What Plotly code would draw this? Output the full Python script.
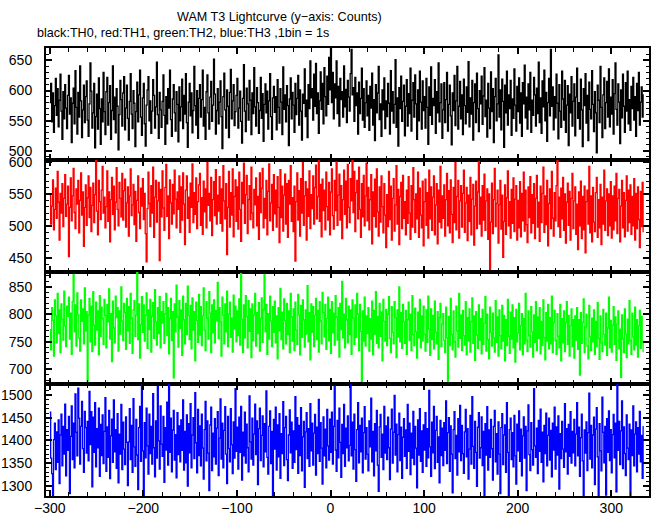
import plotly.graph_objects as go
from plotly.subplots import make_subplots

# Time bins (1 bin = 1 s)
time_start = -300
bin_width = 1

th0_black = [
580, 612, 548, 596, 531, 575, 620, 559, 603, 540, 584, 627, 566, 519, 598, 553, 610, 571, 537, 592,
625, 561, 588, 514, 579, 604, 545, 633, 572, 528, 597, 556, 641, 583, 522, 568, 609, 547, 590, 616,
551, 524, 578, 646, 599, 538, 563, 612, 505, 557, 594, 536, 621, 570, 511, 586, 548, 630, 565, 527,
598, 622, 543, 580, 608, 519, 567, 641, 552, 589, 530, 603, 574, 502, 560, 617, 585, 541, 596, 623,
535, 571, 609, 554, 518, 582, 628, 561, 537, 600, 579, 507, 565, 614, 548, 593, 634, 556, 526, 588,
612, 545, 508, 576, 601, 623, 550, 583, 529, 566, 618, 592, 538, 573, 647, 560, 521, 597, 568, 539,
582, 626, 559, 511, 590, 545, 603, 571, 634, 552, 524, 586, 610, 563, 533, 598, 577, 515, 606, 550,
573, 619, 537, 592, 561, 628, 547, 506, 581, 612, 558, 596, 530, 567, 640, 575, 543, 600, 521, 587,
610, 556, 585, 634, 541, 572, 519, 598, 626, 563, 536, 589, 615, 549, 576, 652, 594, 528, 567, 603,
545, 581, 616, 557, 504, 590, 629, 568, 538, 601, 574, 522, 597, 635, 553, 583, 610, 542, 565, 592,
620, 538, 571, 599, 549, 513, 587, 643, 566, 532, 604, 578, 551, 617, 584, 527, 596, 562, 638, 573,
541, 605, 580, 529, 567, 622, 554, 595, 516, 577, 611, 563, 599, 536, 583, 628, 557, 519, 588, 607,
564, 590, 535, 618, 572, 546, 603, 581, 527, 639, 569, 593, 548, 608, 575, 509, 586, 621, 553, 597,
576, 531, 612, 560, 587, 625, 543, 601, 566, 518, 594, 579, 636, 557, 584, 522, 610, 570, 649, 588,
603, 551, 627, 574, 645, 562, 596, 529, 583, 631, 569, 612, 545, 638, 590, 558, 624, 577, 655, 601,
672, 580, 630, 553, 611, 588, 649, 562, 607, 541, 620, 585, 598, 556, 641, 573, 602, 547, 617, 589,
566, 628, 668, 593, 605, 549, 622, 575, 596, 528, 614, 562, 587, 637, 551, 603, 539, 580, 616, 558,
592, 534, 607, 571, 629, 543, 585, 517, 610, 563, 596, 640, 552, 578, 524, 601, 568, 621, 537, 583,
557, 612, 579, 528, 633, 566, 598, 546, 577, 651, 539, 588, 508, 605, 570, 624, 549, 582, 609, 525,
574, 618, 541, 595, 562, 637, 533, 584, 613, 556, 626, 578, 519, 601, 550, 632, 581, 536, 616, 567,
590, 538, 620, 572, 511, 606, 559, 639, 544, 587, 575, 618, 529, 598, 563, 646, 548, 580, 611, 521,
568, 613, 547, 585, 630, 533, 577, 609, 558, 510, 596, 567, 625, 542, 583, 640, 536, 574, 615, 553,
593, 527, 619, 575, 545, 606, 564, 648, 540, 588, 561, 617, 518, 580, 611, 547, 629, 570, 532, 600,
578, 624, 544, 591, 638, 557, 584, 523, 612, 571, 537, 631, 565, 603, 514, 590, 620, 550, 578, 659,
556, 601, 535, 619, 582, 506, 609, 563, 632, 543, 593, 570, 617, 526, 586, 554, 636, 576, 533, 607,
565, 621, 546, 596, 524, 613, 578, 642, 555, 589, 536, 611, 568, 630, 531, 584, 559, 622, 593, 541,
604, 562, 647, 547, 588, 529, 616, 573, 634, 550, 597, 516, 580, 620, 558, 668, 574, 606, 535, 590,
555, 627, 579, 520, 610, 566, 539, 632, 586, 551, 617, 531, 576, 608, 509, 594, 563, 623, 541, 582,
611, 525, 589, 637, 554, 580, 536, 619, 568, 507, 603, 575, 628, 546, 592, 517, 614, 569, 553, 633,
577, 532, 598, 563, 497, 609, 584, 547, 640, 572, 522, 593, 621, 537, 580, 615, 556, 636, 540, 589,
561, 618, 528, 595, 646, 569, 543, 611, 581, 512, 601, 555, 627, 574, 531, 613, 566, 632, 545, 585,
534, 607, 570, 622, 551, 590, 524, 612, 567, 630, 543, 581, 606, 556, 594,
]

th1_red = [
548, 503, 531, 572, 494, 526, 559, 512, 585, 537, 478, 551, 520, 566, 499, 543, 580, 515, 534, 562,
452, 529, 575, 508, 547, 590, 521, 496, 558, 534, 571, 489, 540, 583, 517, 553, 468, 529, 564, 501,
544, 578, 513, 560, 491, 532, 567, 505, 549, 602, 523, 486, 571, 538, 510, 556, 593, 520, 545, 497,
530, 586, 507, 553, 475, 541, 576, 518, 562, 494, 537, 591, 526, 500, 568, 543, 514, 582, 509, 555,
573, 498, 536, 561, 484, 547, 589, 516, 533, 565, 502, 554, 476, 540, 578, 521, 496, 559, 531, 574,
510, 551, 488, 444, 527, 584, 535, 499, 563, 520, 592, 482, 545, 571, 506, 539, 568, 446, 557, 514,
586, 528, 493, 560, 596, 515, 547, 480, 572, 536, 503, 565, 519, 587, 542, 497, 553, 526, 578, 490,
561, 509, 583, 534, 471, 556, 578, 512, 545, 490, 567, 529, 597, 505, 552, 518, 575, 496, 538, 564,
582, 501, 544, 487, 570, 522, 558, 497, 599, 532, 551, 508, 576, 485, 541, 569, 516, 588, 503, 548,
523, 577, 504, 558, 492, 594, 539, 511, 566, 455, 529, 585, 498, 552, 517, 589, 483, 546, 572, 507,
561, 495, 584, 526, 476, 568, 535, 598, 504, 549, 579, 488, 541, 563, 510, 592, 520, 497, 557, 533,
575, 500, 546, 479, 583, 521, 559, 590, 497, 543, 512, 571, 486, 554, 597, 508, 536, 565, 493, 580,
519, 556, 498, 577, 529, 474, 588, 513, 562, 492, 548, 581, 503, 566, 482, 571, 534, 594, 507, 544,
491, 562, 445, 538, 583, 509, 555, 484, 574, 520, 599, 501, 547, 569, 478, 558, 515, 586, 496, 549,
527, 578, 503, 560, 595, 511, 546, 603, 507, 565, 483, 573, 524, 556, 494, 584, 530, 509, 568, 486,
553, 589, 516, 495, 571, 524, 600, 501, 548, 581, 509, 563, 480, 541, 587, 518, 570, 497, 596, 529,
505, 574, 539, 604, 521, 585, 491, 552, 571, 511, 592, 526, 482, 566, 514, 579, 500, 547, 598, 508,
560, 494, 541, 580, 472, 553, 515, 573, 498, 589, 522, 484, 561, 506, 578, 530, 489, 566, 517, 466,
549, 499, 585, 510, 562, 478, 543, 574, 492, 533, 594, 503, 557, 471, 546, 568, 496, 579, 512, 538,
486, 556, 504, 577, 520, 479, 563, 498, 591, 541, 490, 550, 511, 584, 482, 559, 517, 497, 570, 469,
538, 573, 501, 552, 481, 587, 511, 561, 493, 545, 578, 486, 533, 566, 472, 556, 506, 593, 497, 547,
512, 564, 484, 541, 582, 500, 555, 489, 572, 518, 474, 560, 505, 599, 494, 546, 571, 481, 539, 563,
498, 551, 587, 490, 536, 560, 477, 548, 507, 576, 486, 542, 565, 470, 531, 570, 496, 553, 601, 503,
545, 484, 563, 509, 581, 493, 539, 558, 479, 550, 430, 506, 567, 488, 541, 590, 499, 535, 556, 473,
533, 571, 495, 548, 451, 507, 564, 487, 544, 586, 500, 538, 481, 557, 504, 575, 491, 542, 563, 478,
540, 497, 569, 483, 551, 508, 584, 492, 556, 502, 474, 561, 513, 577, 489, 549, 504, 566, 480, 543,
579, 498, 537, 476, 562, 505, 551, 592, 490, 547, 502, 571, 469, 535, 558, 496, 585, 512, 484, 552,
508, 563, 606, 499, 545, 482, 559, 511, 576, 493, 550, 473, 537, 567, 501, 554, 478, 543, 582, 496,
539, 561, 487, 534, 463, 553, 500, 570, 480, 546, 494, 562, 458, 538, 556, 503, 593, 489, 547, 475,
560, 506, 491, 552, 576, 482, 541, 497, 565, 471, 545, 503, 587, 493, 539, 558, 485, 550, 500, 569,
481, 547, 494, 562, 508, 582, 488, 543, 557, 475, 531, 571, 497, 552, 483, 540, 578, 492, 556, 505,
564, 487, 546, 500, 574, 478, 551, 496, 561, 510, 466, 554, 499, 568, 490,
]

th2_green = [
772, 735, 812, 789, 724, 826, 797, 748, 838, 765, 808, 730, 819, 791, 753, 842, 779, 741, 815, 796,
831, 755, 802, 727, 823, 872, 768, 817, 742, 839, 799, 757, 733, 826, 787, 810, 746, 848, 770, 805,
675, 799, 829, 750, 815, 732, 841, 780, 744, 822, 771, 806, 726, 834, 760, 813, 792, 745, 827, 798,
739, 818, 786, 846, 755, 801, 714, 824, 775, 748, 833, 794, 812, 733, 806, 764, 850, 788, 752, 820,
803, 736, 829, 770, 814, 747, 838, 793, 729, 808, 825, 760, 799, 876, 754, 819, 720, 781, 832, 767,
817, 751, 798, 839, 738, 808, 772, 827, 731, 796, 821, 756, 845, 786, 744, 812, 765, 832, 739, 805,
784, 823, 747, 801, 838, 761, 812, 728, 792, 829, 752, 805, 684, 819, 768, 853, 795, 740, 825, 774,
808, 725, 833, 790, 746, 820, 763, 851, 798, 754, 816, 737, 830, 771, 805, 715, 822, 789, 749, 836,
762, 814, 743, 797, 848, 771, 734, 823, 793, 755, 841, 802, 730, 817, 766, 826, 748, 807, 788, 858,
756, 812, 786, 724, 831, 799, 746, 819, 768, 842, 741, 800, 822, 758, 793, 731, 835, 773, 815, 750,
806, 761, 828, 744, 874, 791, 730, 817, 757, 834, 796, 739, 825, 769, 810, 721, 819, 752, 799, 838,
742, 803, 765, 821, 733, 792, 830, 749, 808, 872, 768, 818, 727, 801, 755, 833, 788, 741, 814, 767,
824, 748, 797, 719, 812, 770, 847, 754, 804, 737, 828, 789, 746, 820, 763, 806, 730, 838, 795, 751,
810, 734, 822, 771, 745, 836, 799, 726, 816, 758, 826, 790, 740, 808, 764, 852, 750, 803, 717, 819,
767, 814, 741, 798, 829, 754, 807, 731, 823, 788, 746, 840, 803, 759, 818, 736, 792, 831, 752, 809,
729, 823, 766, 802, 744, 834, 795, 753, 812, 722, 820, 772, 860, 757, 800, 739, 829, 790, 748, 815,
763, 808, 727, 826, 793, 745, 817, 758, 838, 800, 734, 818, 769, 676, 806, 751, 831, 742, 797, 765,
812, 733, 792, 755, 824, 726, 807, 764, 841, 747, 796, 739, 820, 760, 804, 715, 827, 787, 751, 809,
743, 800, 832, 756, 730, 814, 767, 746, 823, 794, 721, 808, 759, 850, 750, 803, 738, 818, 786, 747,
807, 727, 790, 822, 752, 800, 734, 834, 763, 743, 811, 768, 720, 804, 757, 827, 739, 797, 751, 815,
764, 733, 808, 749, 833, 773, 725, 810, 754, 798, 737, 824, 767, 746, 805, 718, 794, 820, 741, 782,
801, 752, 730, 813, 757, 675, 796, 743, 829, 763, 735, 806, 750, 722, 815, 770, 740, 838, 756, 799,
734, 807, 761, 744, 823, 726, 794, 751, 810, 731, 786, 830, 747, 797, 716, 805, 762, 738, 817, 753,
792, 728, 809, 745, 784, 832, 733, 800, 754, 719, 813, 767, 742, 802, 757, 731, 825, 749, 795, 724,
808, 761, 737, 816, 751, 798, 715, 790, 743, 827, 760, 729, 804, 755, 817, 739, 794, 713, 809, 750,
766, 820, 735, 779, 801, 726, 792, 746, 838, 753, 732, 806, 761, 740, 814, 768, 722, 799, 749, 823,
734, 795, 756, 812, 728, 787, 743, 826, 758, 717, 803, 751, 818, 737, 794, 746, 833, 730, 785, 807,
752, 727, 801, 760, 739, 818, 715, 792, 748, 806, 732, 785, 823, 745, 798, 724, 779, 810, 741, 790,
720, 797, 753, 812, 736, 790, 689, 803, 747, 785, 828, 730, 777, 800, 742, 719, 816, 759, 734, 793,
750, 808, 727, 787, 741, 821, 756, 718, 797, 748, 732, 809, 763, 744, 802, 725, 775, 831, 739, 789,
731, 780, 814, 745, 795, 716, 782, 806, 737, 773, 685, 799, 755, 730, 810, 764, 721, 791, 746, 825,
752, 727, 802, 759, 735, 813, 744, 790, 722, 779, 807, 738, 796, 749, 731,
]

th3_blue = [
1462, 1361, 1327, 1275, 1402, 1438, 1336, 1419, 1352, 1445, 1305, 1412, 1458, 1344, 1431, 1370, 1480, 1322, 1424, 1378,
1453, 1283, 1409, 1476, 1358, 1438, 1340, 1502, 1418, 1366, 1515, 1449, 1348, 1431, 1486, 1382, 1330, 1464, 1428, 1372,
1442, 1355, 1508, 1391, 1463, 1298, 1451, 1374, 1483, 1342, 1426, 1384, 1471, 1321, 1435, 1367, 1456, 1349, 1420, 1494,
1332, 1430, 1363, 1466, 1316, 1410, 1447, 1352, 1489, 1375, 1424, 1339, 1459, 1307, 1414, 1370, 1479, 1336, 1440, 1381,
1347, 1452, 1396, 1301, 1397, 1470, 1358, 1433, 1330, 1492, 1386, 1343, 1446, 1368, 1292, 1428, 1475, 1354, 1530, 1377,
1276, 1439, 1362, 1471, 1388, 1326, 1458, 1371, 1431, 1348, 1503, 1384, 1320, 1443, 1361, 1518, 1399, 1337, 1476, 1392,
1365, 1453, 1308, 1428, 1379, 1484, 1346, 1530, 1374, 1449, 1331, 1423, 1466, 1357, 1413, 1318, 1461, 1369, 1432, 1353,
1445, 1378, 1489, 1335, 1420, 1351, 1456, 1300, 1437, 1373, 1481, 1340, 1412, 1450, 1360, 1505, 1395, 1329, 1468, 1367,
1432, 1344, 1458, 1383, 1315, 1424, 1486, 1355, 1443, 1372, 1290, 1434, 1473, 1334, 1416, 1364, 1448, 1348, 1427, 1463,
1323, 1405, 1491, 1359, 1438, 1340, 1422, 1474, 1370, 1305, 1453, 1382, 1353, 1470, 1391, 1327, 1441, 1361, 1514, 1376,
1429, 1337, 1451, 1374, 1475, 1313, 1418, 1366, 1462, 1350, 1436, 1384, 1331, 1498, 1397, 1359, 1449, 1346, 1414, 1480,
1369, 1443, 1303, 1426, 1471, 1356, 1411, 1454, 1342, 1437, 1375, 1509, 1363, 1326, 1431, 1465, 1349, 1420, 1276, 1446,
1381, 1473, 1335, 1434, 1364, 1459, 1317, 1415, 1371, 1485, 1345, 1428, 1453, 1358, 1312, 1412, 1467, 1373, 1440, 1339,
1421, 1352, 1496, 1380, 1450, 1328, 1433, 1367, 1472, 1333, 1408, 1442, 1297, 1419, 1461, 1360, 1426, 1343, 1481, 1377,
1438, 1346, 1416, 1457, 1324, 1429, 1371, 1490, 1354, 1439, 1383, 1304, 1452, 1366, 1425, 1340, 1468, 1388, 1357, 1447,
1374, 1462, 1348, 1431, 1520, 1379, 1332, 1444, 1362, 1471, 1396, 1319, 1435, 1371, 1479, 1343, 1427, 1384, 1454, 1355,
1389, 1532, 1366, 1440, 1337, 1458, 1380, 1310, 1424, 1483, 1351, 1433, 1375, 1449, 1329, 1417, 1474, 1359, 1428, 1370,
1333, 1443, 1386, 1493, 1353, 1420, 1322, 1437, 1377, 1466, 1346, 1288, 1430, 1457, 1363, 1414, 1336, 1475, 1372, 1432,
1358, 1451, 1384, 1314, 1425, 1469, 1350, 1418, 1499, 1368, 1436, 1331, 1413, 1460, 1356, 1429, 1317, 1407, 1448, 1365,
1423, 1339, 1479, 1376, 1438, 1325, 1416, 1361, 1464, 1347, 1431, 1383, 1296, 1445, 1368, 1470, 1354, 1421, 1330, 1434,
1379, 1461, 1343, 1426, 1362, 1510, 1386, 1321, 1440, 1373, 1475, 1338, 1422, 1453, 1352, 1408, 1307, 1444, 1367, 1427,
1345, 1439, 1378, 1487, 1349, 1417, 1450, 1332, 1432, 1370, 1285, 1424, 1463, 1360, 1411, 1324, 1448, 1375, 1477, 1356,
1433, 1371, 1328, 1419, 1468, 1364, 1426, 1315, 1381, 1455, 1348, 1496, 1387, 1339, 1442, 1374, 1299, 1429, 1461, 1361,
1384, 1452, 1345, 1420, 1272, 1437, 1368, 1474, 1335, 1423, 1363, 1446, 1382, 1313, 1431, 1466, 1353, 1415, 1326, 1441,
1370, 1283, 1428, 1459, 1347, 1412, 1434, 1330, 1483, 1374, 1270, 1424, 1449, 1358, 1417, 1342, 1455, 1366, 1304, 1436,
1377, 1465, 1354, 1425, 1322, 1410, 1452, 1361, 1431, 1290, 1421, 1478, 1369, 1334, 1439, 1380, 1346, 1514, 1388, 1363,
1427, 1327, 1444, 1376, 1469, 1352, 1418, 1309, 1433, 1371, 1460, 1344, 1411, 1449, 1357, 1422, 1320, 1438, 1379, 1473,
1337, 1430, 1368, 1454, 1293, 1415, 1360, 1442, 1381, 1341, 1481, 1375, 1426, 1326, 1435, 1365, 1463, 1350, 1420, 1373,
1446, 1344, 1414, 1483, 1366, 1429, 1321, 1406, 1458, 1355, 1271, 1423, 1372, 1441, 1334, 1417, 1504, 1359, 1433, 1340,
1412, 1451, 1303, 1425, 1472, 1364, 1268, 1437, 1377, 1333, 1495, 1418, 1351, 1431, 1280, 1448, 1374, 1465, 1356, 1424,
1329, 1413, 1457, 1362, 1438, 1287, 1528, 1378, 1442, 1347, 1421, 1487, 1338, 1430, 1371, 1323, 1456, 1383, 1358, 1436,
1276, 1423, 1367, 1476, 1344, 1414, 1441, 1331, 1428, 1370, 1464, 1353, 1411, 1317, 1432,
]

series = [th0_black, th1_red, th2_green, th3_blue]
colors = ["#000000", "#ff0000", "#00ff00", "#0000ff"]
y_ranges = [[485, 670.5], [428, 603], [673, 877], [1278, 1524]]
x_range = [-304, 340.3]

title_text = "WAM T3 Lightcurve (y\u2212axis: Counts)"
subtitle_text = "black:TH0, red:TH1, green:TH2, blue:TH3 ,1bin = 1s"

FONT = "Liberation Sans, Arial, Helvetica, sans-serif"

fig = make_subplots(rows=4, cols=1, shared_xaxes=True, vertical_spacing=0)

for i, (vals, col) in enumerate(zip(series, colors)):
    xs = [time_start + k * bin_width for k in range(len(vals))]
    fig.add_trace(
        go.Scatter(x=xs, y=vals, mode="lines", line=dict(color=col, width=1.3, shape="hv"),
                   showlegend=False, hoverinfo="skip"),
        row=i + 1, col=1,
    )

for i in range(4):
    fig.update_yaxes(
        range=y_ranges[i], dtick=50, tick0=0, automargin=False,
        ticks="inside", ticklen=6, tickwidth=1.5, tickcolor="black",
        minor=dict(ticks="inside", dtick=10, tick0=0, ticklen=3, tickwidth=1, tickcolor="black"),
        showline=True, linewidth=2, linecolor="black", mirror="allticks",
        showgrid=False, zeroline=False,
        tickfont=dict(family=FONT, size=14, color="black"),
        ticklabelstandoff=9,
        row=i + 1, col=1,
    )
    fig.update_xaxes(
        range=x_range, dtick=100, tick0=0, automargin=False,
        ticks="inside", ticklen=6, tickwidth=1.5, tickcolor="black",
        minor=dict(ticks="inside", dtick=20, tick0=0, ticklen=4, tickwidth=1, tickcolor="black"),
        showline=True, linewidth=2, linecolor="black", mirror="allticks",
        showgrid=False, zeroline=False,
        showticklabels=(i == 3),
        tickfont=dict(family=FONT, size=14, color="black"),
        ticklabelstandoff=-2,
        row=i + 1, col=1,
    )

fig.update_layout(
    width=652, height=515,
    margin=dict(l=46, r=3, t=48, b=19),
    paper_bgcolor="white", plot_bgcolor="white",
    font=dict(family=FONT, color="black"),
    annotations=[
        dict(text=title_text, xref="paper", yref="paper", x=0.388, y=1.069,
             xanchor="center", yanchor="middle", showarrow=False,
             font=dict(family=FONT, size=12.6, color="black")),
        dict(text=subtitle_text, xref="paper", yref="paper", x=-0.0182, y=1.0335,
             xanchor="left", yanchor="middle", showarrow=False,
             font=dict(family=FONT, size=12.6, color="black")),
    ],
)

fig.write_html("out.html", config={"displayModeBar": False},
               post_script="document.body.style.margin='0';document.body.style.overflow='hidden';")
